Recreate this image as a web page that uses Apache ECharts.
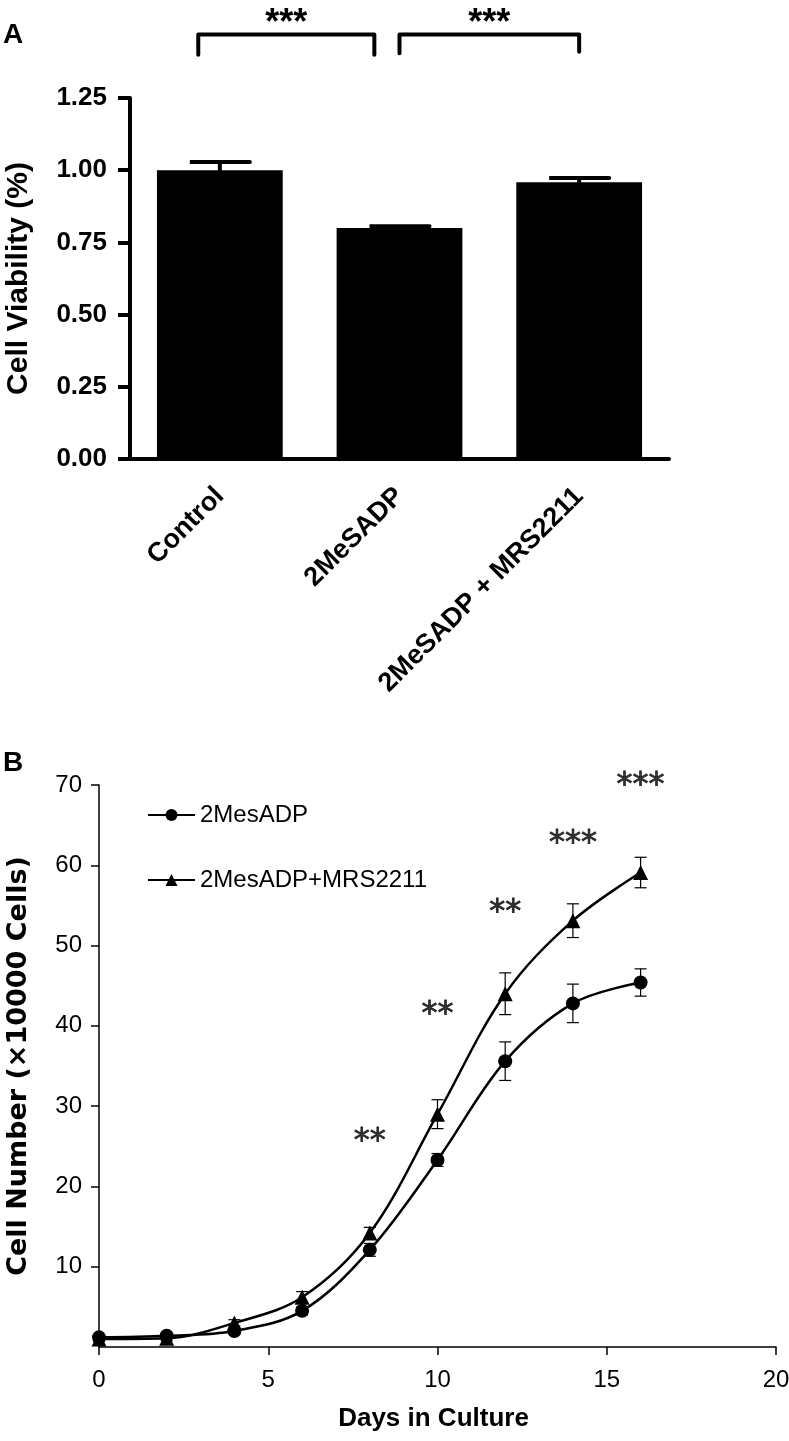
<!DOCTYPE html>
<html><head><meta charset="utf-8">
<script src="https://cdn.jsdelivr.net/npm/echarts@6/dist/echarts.min.js"></script>
<style>html,body{margin:0;padding:0;background:#fff}#c{width:789px;height:1441px}</style>
</head><body><div id="c"></div>
<script>
// ---------- Panel A data ----------
const viabilityCategories = ['Control', '2MeSADP', '2MeSADP + MRS2211'];
const viabilityMean = [1.00, 0.80, 0.958];
const viabilityErr = [0.028, 0.006, 0.015];
const bracketFrom = [-0.12, 1.0];
const bracketTo = [0.86, 2.0];
const bracketTop = [1.47, 1.47];
const bracketLegLeft = [1.40, 1.405];
const bracketLegRight = [1.40, 1.41];
const bracketLabels = ['***', '***'];
const bracketLabelY = [1.537, 1.537];

// ---------- Panel B data ----------
const days = [0, 2, 4, 6, 8, 10, 12, 14, 16];
const adpMean = [1.2, 1.4, 2.0, 4.5, 12.1, 23.3, 35.6, 42.8, 45.4];
const adpErr = [0.3, 0.3, 0.3, 0.5, 0.8, 0.8, 2.4, 2.4, 1.7];
const mrsMean = [1.0, 1.1, 3.0, 6.2, 14.2, 29.0, 44.0, 53.1, 59.1];
const mrsErr = [0.3, 0.3, 0.4, 0.7, 0.7, 1.8, 2.6, 2.1, 1.9];
const starDays = [8, 10, 12, 14, 16];
const starY = [26.3, 42.1, 54.8, 63.4, 70.6];
const starLabels = ['**', '**', '**', '***', '***'];

const SANS = "'Liberation Sans', Arial, Helvetica, sans-serif";

function errRenderB(params, api) {
  const x = api.value(0), m = api.value(1), e = api.value(2);
  const t = api.coord([x, m + e]), b = api.coord([x, m - e]);
  const hw = 6, st = { stroke: '#000', lineWidth: 1.2 };
  return { type: 'group', children: [
    { type: 'line', shape: { x1: t[0], y1: t[1], x2: b[0], y2: b[1] }, style: st },
    { type: 'line', shape: { x1: t[0] - hw, y1: t[1], x2: t[0] + hw, y2: t[1] }, style: st },
    { type: 'line', shape: { x1: b[0] - hw, y1: b[1], x2: b[0] + hw, y2: b[1] }, style: st }
  ]};
}

function errRenderA(params, api) {
  const i = params.dataIndex;
  const m = viabilityMean[i], e = viabilityErr[i];
  const base = api.coord([i, m]), t = api.coord([i, m + e]);
  const hw = 30;
  return { type: 'polyline',
    shape: { points: [[base[0], base[1]], [t[0], t[1]], [t[0] - hw, t[1]], [t[0] + hw, t[1]]] },
    style: { stroke: '#000', lineWidth: 4, fill: null, lineCap: 'round' } };
}

function bracketRender(params, api) {
  const i = params.dataIndex;
  const f = bracketFrom[i], to = bracketTo[i], y = bracketTop[i];
  const p1 = api.coord([f, bracketLegLeft[i]]), p2 = api.coord([f, y]);
  const p3 = api.coord([to, y]), p4 = api.coord([to, bracketLegRight[i]]);
  const lp = api.coord([(f + to) / 2, bracketLabelY[i]]);
  return { type: 'group', children: [
    { type: 'polyline', shape: { points: [p1, p2, p3, p4] },
      style: { stroke: '#000', lineWidth: 4, fill: null, lineCap: 'round', lineJoin: 'round' } },
    { type: 'text', x: lp[0], y: lp[1] + 9,
      style: { text: bracketLabels[i], fill: '#000', font: "bold 36px 'Liberation Sans', Arial, sans-serif",
               align: 'center', verticalAlign: 'middle' } }
  ]};
}

const chart = echarts.init(document.getElementById('c'), null, { renderer: 'canvas' });
const option = {
  backgroundColor: '#fff',
  animation: false,
  textStyle: { fontFamily: SANS, color: '#000' },
  title: [
    { text: 'A', left: 3, top: 21, padding: 0, textStyle: { fontSize: 28, fontWeight: 'bold', color: '#000', fontFamily: SANS } },
    { text: 'B', left: 3, top: 749, padding: 0, textStyle: { fontSize: 28, fontWeight: 'bold', color: '#000', fontFamily: SANS } }
  ],
  legend: [
    { data: ['2MesADP'], left: 147, top: 803, padding: 0, itemWidth: 47, itemHeight: 15,
      textStyle: { fontSize: 24, color: '#000', fontFamily: SANS } },
    { data: ['2MesADP+MRS2211'], left: 147, top: 868, padding: 0, itemWidth: 47, itemHeight: 15,
      textStyle: { fontSize: 24, color: '#000', fontFamily: SANS } }
  ],
  grid: [
    { left: 130, top: 98, width: 539, height: 361, containLabel: false, outerBoundsMode: 'none' },
    { left: 99, top: 785, width: 677, height: 562, containLabel: false, outerBoundsMode: 'none' }
  ],
  xAxis: [
    { type: 'category', gridIndex: 0, data: viabilityCategories,
      axisLine: { onZero: false, lineStyle: { color: '#000', width: 4, cap: 'round' } },
      axisTick: { alignWithLabel: true, length: 12, lineStyle: { color: '#000', width: 4 } },
      axisLabel: { rotate: 45, margin: 33, padding: [16, 0, 0, 0], fontSize: 27, fontWeight: 'bold', color: '#000', fontFamily: SANS, interval: 0 } },
    { type: 'value', gridIndex: 0, min: -0.5, max: 2.5, show: false },
    { type: 'value', gridIndex: 1, min: 0, max: 20, interval: 5,
      name: 'Days in Culture', nameLocation: 'middle', nameGap: 59,
      nameTextStyle: { fontSize: 26, fontWeight: 'bold', color: '#000', fontFamily: SANS, padding: [0, 8, 0, 0] },
      axisLine: { onZero: false, lineStyle: { color: '#000', width: 1.5 } },
      axisTick: { length: 8, lineStyle: { color: '#000', width: 1.5 } },
      axisLabel: { margin: 21, fontSize: 24, color: '#000', fontFamily: SANS },
      splitLine: { show: false } }
  ],
  yAxis: [
    { type: 'value', gridIndex: 0, min: 0, max: 1.25, interval: 0.25,
      name: 'Cell Viability (%)', nameLocation: 'middle', nameGap: 96,
      nameTextStyle: { fontSize: 30, fontWeight: 'bold', color: '#000', fontFamily: SANS },
      axisLine: { show: true, onZero: false, lineStyle: { color: '#000', width: 4, cap: 'round' } },
      axisTick: { show: true, length: 12, lineStyle: { color: '#000', width: 4 } },
      axisLabel: { margin: 23, fontSize: 26, fontWeight: 'bold', color: '#000', fontFamily: SANS,
                   formatter: v => v.toFixed(2) },
      splitLine: { show: false } },
    { type: 'value', gridIndex: 1, min: 0, max: 70, interval: 10,
      name: 'Cell Number (×10000 Cells)', nameLocation: 'middle', nameGap: 67,
      nameTextStyle: { fontSize: 27, fontWeight: 'bold', color: '#000', fontFamily: "'DejaVu Sans', sans-serif" },
      axisLine: { show: true, onZero: false, lineStyle: { color: '#000', width: 1.5 } },
      axisTick: { show: true, length: 8, lineStyle: { color: '#000', width: 1.5 } },
      axisLabel: { margin: 17, fontSize: 24, color: '#000', fontFamily: SANS, showMinLabel: false },
      splitLine: { show: false } }
  ],
  series: [
    { type: 'bar', xAxisIndex: 0, yAxisIndex: 0, data: viabilityMean, barCategoryGap: '30%',
      itemStyle: { color: '#000' }, z: 2 },
    { type: 'custom', xAxisIndex: 1, yAxisIndex: 0, renderItem: errRenderA, clip: false, z: 3,
      data: viabilityMean.map((m, i) => [i, m]) },
    { type: 'custom', xAxisIndex: 1, yAxisIndex: 0, renderItem: bracketRender, clip: false, z: 3,
      data: bracketFrom.map((f, i) => [f, bracketTop[i]]) },

    { name: '2MesADP', type: 'line', xAxisIndex: 2, yAxisIndex: 1, smooth: 0.35,
      data: days.map((d, i) => [d, adpMean[i]]), symbol: 'circle', symbolSize: 14,
      lineStyle: { color: '#000', width: 2.5 }, itemStyle: { color: '#000' }, z: 4 },
    { name: '2MesADP+MRS2211', type: 'line', xAxisIndex: 2, yAxisIndex: 1, smooth: 0.35,
      data: days.map((d, i) => [d, mrsMean[i]]), symbol: 'triangle', symbolSize: 15,
      lineStyle: { color: '#000', width: 2.5 }, itemStyle: { color: '#000' }, z: 4 },
    { type: 'custom', xAxisIndex: 2, yAxisIndex: 1, renderItem: errRenderB, clip: false, z: 3,
      data: days.map((d, i) => [d, adpMean[i], adpErr[i]]) },
    { type: 'custom', xAxisIndex: 2, yAxisIndex: 1, renderItem: errRenderB, clip: false, z: 3,
      data: days.map((d, i) => [d, mrsMean[i], mrsErr[i]]) },
    { type: 'scatter', xAxisIndex: 2, yAxisIndex: 1, clip: false, symbolSize: 1, silent: true,
      itemStyle: { color: 'rgba(0,0,0,0)' },
      data: starDays.map((d, i) => [d, starY[i], starLabels[i]]),
      label: { show: true, position: 'inside', offset: [0, 6], formatter: p => p.value[2],
               fontSize: 32, color: '#000', textBorderColor: '#000', textBorderWidth: 0.8,
               fontFamily: "'DejaVu Sans', sans-serif" } }
  ]
};
chart.setOption(option);
</script></body></html>
